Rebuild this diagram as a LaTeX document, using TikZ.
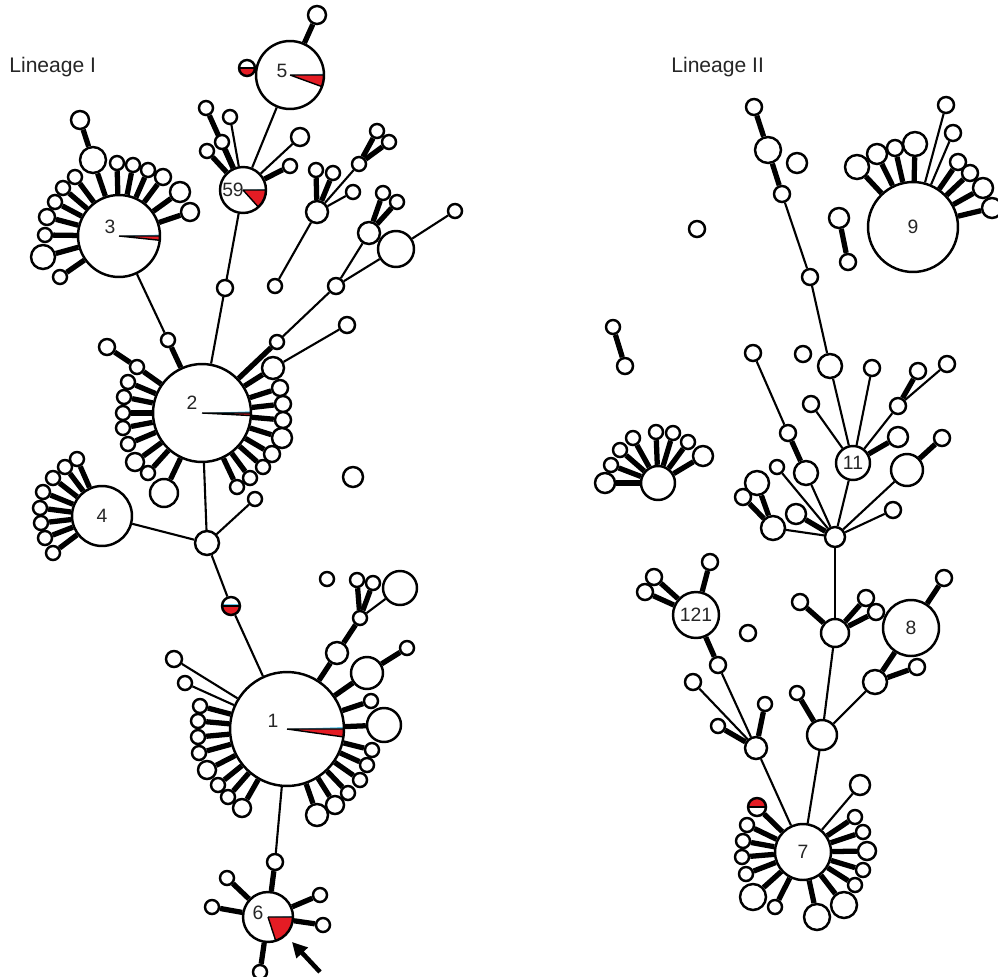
\documentclass[tikz,border=0pt]{standalone}
\usepackage{fontspec}
\setmainfont{Liberation Sans}
\usetikzlibrary{arrows.meta}
\definecolor{piered}{RGB}{228,28,36}
\definecolor{piecyan}{RGB}{100,200,235}

\begin{document}
\begin{tikzpicture}[x=0.02cm, y=-0.02cm,
    nd/.style={circle, draw, fill=white, line width=1.4pt, inner sep=0pt, minimum size=#1*0.04cm, font=\fontsize{11}{13}\selectfont, text=black!85},
    thn/.style={line width=1.2pt},
    thk/.style={line width=3pt},
    num/.style={font=\fontsize{11}{13}\selectfont, text=black!85, inner sep=0pt},
    title/.style={font=\fontsize{12}{14}\selectfont, text=black!85, anchor=base west, inner sep=0pt},
    pie/.style={path picture={
        \fill[piered] (path picture bounding box.center) -- +(0:3cm) -- +(#1:3cm) -- cycle;
        \fill[piecyan] (path picture bounding box.center) -- +(0:3cm) -- +(2:3cm) -- cycle;
        \draw[line width=.8pt] (path picture bounding box.center) -- +(0:3cm)
            (path picture bounding box.center) -- +(#1:3cm);}},
    halfdown/.style={path picture={
        \fill[piered] (path picture bounding box.west) rectangle (path picture bounding box.south east);
        \draw[line width=.8pt] (path picture bounding box.west) -- (path picture bounding box.east);}},
    halfcyan/.style={path picture={
        \fill[piered] (path picture bounding box.west) rectangle (path picture bounding box.south east);
        \fill[piecyan] (path picture bounding box.west) rectangle ++(1cm,0.05cm);
        \draw[line width=.8pt] (path picture bounding box.west) -- (path picture bounding box.east);}},
    halfup/.style={path picture={
        \fill[piered] (path picture bounding box.west) rectangle (path picture bounding box.north east);
        \draw[line width=.8pt] (path picture bounding box.west) -- (path picture bounding box.east);}}
]
\useasboundingbox (0,0) rectangle (998,977);

% ---------------- Lineage I ----------------
\node[title] (lin1) at (9,72) {Lineage I};

\node[nd=34, pie=-20] (n5) at (290,75) {};
\node[num] (l5) at (282,71) {5};
\node[nd=9] (n5a) at (317,15) {};
\draw[thk] (n5) -- (n5a);
\node[nd=8, halfdown] (hr1) at (247,68) {};

\node[nd=23, pie=-48] (n59) at (243,190) {};
\node[num] (l59) at (233,190) {59};
\draw[thn] (n59) -- (n5);
\foreach \x/\y/\r/\w [count=\i] in {206/108/7/3, 230/117/7/1.2, 222/142/7/3, 207/151/7/3, 300/137/9/1.2, 290/166/7/3}
  {\node[nd=\r] (g59-\i) at (\x,\y) {}; \draw[line width=\w pt] (n59) -- (g59-\i);}
\node[nd=8] (b1) at (225,288) {};
\draw[thn] (n59) -- (b1);

\node[nd=41, pie=-6] (n3) at (119,236) {};
\node[num] (l3) at (110,227) {3};
\node[nd=13] (n3a) at (93,160) {};
\node[nd=9] (n3b) at (80,120) {};
\draw[thk] (n3) -- (n3a) (n3a) -- (n3b);
\foreach \x/\y/\r [count=\i] in {117/163/7, 133/165/7, 148/170/7, 163/177/8, 180/192/10, 190/212/9, 75/177/7, 63/188/7, 55/202/7, 47/217/8, 45/235/7, 43/257/12, 60/277/7}
  {\node[nd=\r] (g3-\i) at (\x,\y) {}; \draw[thk] (n3) -- (g3-\i);}

% cluster right of 59
\node[nd=11] (c1) at (317,212) {};
\node[nd=7] (c1a) at (275,286) {};
\node[nd=7] (c1b) at (359,164) {};
\draw[thn] (c1) -- (c1a) (c1) -- (c1b);
\foreach \x/\y/\w [count=\i] in {316/170/3, 333/173/3, 353/192/1.2}
  {\node[nd=7] (gc1-\i) at (\x,\y) {}; \draw[line width=\w pt] (c1) -- (gc1-\i);}
\foreach \x/\y [count=\i] in {377/131, 389/142}
  {\node[nd=7] (gc2-\i) at (\x,\y) {}; \draw[thk] (c1b) -- (gc2-\i);}

% node 2
\node[nd=49, pie=-3] (n2) at (202,413) {};
\node[num] (l2) at (192,403) {2};
\draw[thn] (b1) -- (n2);
\node[nd=7] (n2a) at (168,340) {};
\draw[thk] (n2) -- (n2a);
\draw[thn] (n2a) -- (n3);
\node[nd=8] (n2b) at (347,325) {};
\node[nd=11] (n2c) at (273,368) {};
\draw[thn] (n2b) -- (n2c);
\draw[thk] (n2c) -- (n2);
\node[nd=8] (n2d) at (107,347) {};
\node[nd=7] (n2e) at (137,367) {};
\draw[thk] (n2d) -- (n2e) (n2e) -- (n2);
\foreach \x/\y/\r [count=\i] in {128/382/7, 124/397/7, 123/413/7, 123/428/7, 128/444/7, 135/462/9, 148/473/7, 164/493/14, 280/388/8, 283/404/8, 283/420/8, 282/438/10, 272/454/8, 263/467/7, 250/478/7, 237/487/7}
  {\node[nd=\r] (g2-\i) at (\x,\y) {}; \draw[thk] (n2) -- (g2-\i);}

% cluster feeding 2 from upper right
\node[nd=11] (d1) at (369,233) {};
\node[nd=18] (d2) at (396,249) {};
\node[nd=8] (d3) at (336,286) {};
\node[nd=7] (d4) at (455,211) {};
\node[nd=7] (d5) at (277,342) {};
\draw[thn] (d3) -- (d1) (d3) -- (d2) (d2) -- (d4) (d3) -- (d5);
\draw[thk] (d5) -- (n2);
\foreach \x/\y [count=\i] in {383/193, 397/202}
  {\node[nd=7] (gd-\i) at (\x,\y) {}; \draw[thk] (d1) -- (gd-\i);}

% junction below 2 and node 4
\node[nd=12] (e1) at (207,543) {};
\draw[thn] (n2) -- (e1);
\node[nd=30] (n4) at (102,516) {4};
\node[nd=7] (e2) at (255,499) {};
\node[nd=9, halfcyan] (hr2) at (231,606) {};
\draw[thn] (e1) -- (n4) (e1) -- (e2) (e1) -- (hr2);
\foreach \x/\y [count=\i] in {77/459, 65/467, 53/478, 43/492, 40/508, 41/523, 45/538, 53/553}
  {\node[nd=7] (g4-\i) at (\x,\y) {}; \draw[thk] (n4) -- (g4-\i);}
\node[nd=10] (i1) at (353,477) {};
\node[nd=7] (i2) at (327,579) {};

% node 1
\node[nd=57, pie=-8] (n1) at (287,729) {};
\node[num] (l1) at (273,721) {1};
\draw[thn] (hr2) -- (n1);
\node[nd=11] (f1) at (337,653) {};
\node[nd=7] (f2) at (360,618) {};
\draw[thk] (n1) -- (f1) (f1) -- (f2);
\foreach \x/\y/\r/\w [count=\i] in {357/580/7/3, 373/583/7/3, 400/588/17/1.2}
  {\node[nd=\r] (gf-\i) at (\x,\y) {}; \draw[line width=\w pt] (f2) -- (gf-\i);}
\node[nd=16] (f3) at (367,673) {};
\node[nd=7] (f4) at (407,648) {};
\draw[thk] (n1) -- (f3) (f3) -- (f4);
\node[nd=8] (f5) at (174,659) {};
\node[nd=7] (f6) at (185,683) {};
\draw[thn] (n1) -- (f5) (n1) -- (f6);
\foreach \x/\y/\r [count=\i] in {200/706/7, 198/721/7, 198/737/7, 199/753/7, 207/770/9, 218/785/7, 228/797/7, 242/808/9, 371/701/7, 384/725/17, 372/750/7, 367/765/7, 360/780/7, 348/793/7, 335/805/9, 317/815/11}
  {\node[nd=\r] (g1-\i) at (\x,\y) {}; \draw[thk] (n1) -- (g1-\i);}

% node 6
\node[nd=8] (f7) at (275,862) {};
\draw[thn] (n1) -- (f7);
\node[nd=25, pie=-72] (n6) at (268,917) {};
\node[num] (l6) at (258,913) {6};
\draw[thk] (f7) -- (n6);
\foreach \x/\y [count=\i] in {227/878, 212/907, 320/895, 323/925, 260/972}
  {\node[nd=7] (g6-\i) at (\x,\y) {}; \draw[thk] (n6) -- (g6-\i);}
\coordinate (arrtail) at (320,972);
\coordinate (arrtip) at (292,942);
\draw[line width=2.6pt, -{Triangle[length=0.3cm, width=0.3cm]}] (arrtail) -- (arrtip);

% ---------------- Lineage II ----------------
\node[title] (lin2) at (671,72) {Lineage II};

\node[nd=8] (m1) at (754,107) {};
\node[nd=13] (m2) at (768,150) {};
\node[nd=8] (m3) at (782,194) {};
\node[nd=8] (m4) at (810,277) {};
\node[nd=12] (m5) at (830,366) {};
\node[nd=17] (n11) at (853,463) {11};
\draw[thk] (m1) -- (m2) (m2) -- (m3);
\draw[thn] (m3) -- (m4) (m4) -- (m5) (m5) -- (n11);
\node[nd=10] (i4) at (797,163) {};
\node[nd=8] (i5) at (697,229) {};
\node[nd=8] (i6) at (803,354) {};
\node[nd=8] (i7) at (748,633) {};
\node[nd=10] (p1) at (839,218) {};
\node[nd=8] (p2) at (848,262) {};
\draw[thk] (p1) -- (p2);
\node[nd=7] (p3) at (613,327) {};
\node[nd=8] (p4) at (625,366) {};
\draw[thk] (p3) -- (p4);

% node 9
\node[nd=45] (n9) at (913,227) {9};
\foreach \x/\y/\r/\w [count=\i] in {857/167/12/3, 877/154/10/3, 895/148/8/3, 915/144/12/3, 946/105/8/1.2, 953/133/8/1.2, 958/162/8/3, 970/173/8/3, 983/188/10/3, 992/208/10/3}
  {\node[nd=\r] (g9-\i) at (\x,\y) {}; \draw[line width=\w pt] (n9) -- (g9-\i);}

% around 11 and the hub below it
\node[nd=10] (hub) at (835,537) {};
\node[nd=8] (k1) at (872,368) {};
\node[nd=8] (k2) at (811,404) {};
\node[nd=8] (k3) at (898,406) {};
\node[nd=8] (k4) at (918,371) {};
\node[nd=8] (k5) at (947,364) {};
\node[nd=10] (k6) at (898,437) {};
\draw[thn] (n11) -- (k1) (n11) -- (k2) (n11) -- (k3) (k3) -- (k5) (n11) -- (hub);
\draw[thk] (k3) -- (k4) (n11) -- (k6);
\node[nd=8] (h1) at (753,353) {};
\node[nd=8] (h2) at (788,433) {};
\node[nd=12] (h3) at (806,473) {};
\draw[thn] (h1) -- (h2) (h3) -- (hub);
\draw[thk] (h2) -- (h3);
\node[nd=7] (h4) at (777,467) {};
\node[nd=12] (h5) at (773,528) {};
\node[nd=12] (h6) at (757,483) {};
\node[nd=8] (h7) at (743,497) {};
\node[nd=10] (h8) at (796,514) {};
\node[nd=16] (h9) at (907,470) {};
\node[nd=8] (h10) at (942,438) {};
\node[nd=8] (h11) at (893,510) {};
\draw[thn] (hub) -- (h4) (hub) -- (h5) (hub) -- (h9) (hub) -- (h11);
\draw[thk] (h6) -- (h5) (h7) -- (h5) (hub) -- (h8) (h9) -- (h10);

% stem down to 7
\node[nd=14] (s1) at (835,633) {};
\draw[thn] (hub) -- (s1);
\node[nd=8] (s2) at (800,602) {};
\node[nd=8] (s3) at (866,598) {};
\node[nd=8] (s4) at (876,612) {};
\draw[thk] (s1) -- (s2) (s1) -- (s3) (s1) -- (s4);
\node[nd=15] (s5) at (822,735) {};
\draw[thn] (s1) -- (s5);
\node[nd=28] (n8) at (911,628) {8};
\node[nd=8] (s6) at (944,578) {};
\node[nd=12] (s7) at (875,682) {};
\node[nd=8] (s8) at (917,667) {};
\draw[thk] (n8) -- (s6) (n8) -- (s7) (s7) -- (s8);
\draw[thn] (s7) -- (s5);
\node[nd=7] (s9) at (797,693) {};
\draw[thk] (s5) -- (s9);

% node 121
\node[nd=23] (n121) at (696,615) {121};
\node[nd=8] (t1) at (710,562) {};
\node[nd=8] (t2) at (654,577) {};
\node[nd=8] (t3) at (645,592) {};
\node[nd=8] (t4) at (718,665) {};
\draw[thk] (n121) -- (t1) (n121) -- (t2) (n121) -- (t3) (n121) -- (t4);
\node[nd=8] (t5) at (693,682) {};
\node[nd=11] (t6) at (756,748) {};
\node[nd=7] (t7) at (765,704) {};
\node[nd=7] (t8) at (718,726) {};
\draw[thn] (t4) -- (t6) (t5) -- (t6);
\draw[thk] (t7) -- (t6) (t8) -- (t6);

% node 7
\node[nd=28] (n7) at (803,852) {7};
\draw[thn] (t6) -- (n7) (s5) -- (n7);
\node[nd=9, halfup] (hr3) at (757,807) {};
\draw[thk] (n7) -- (hr3);
\foreach \x/\y/\r [count=\i] in {747/825/7, 743/841/7, 742/857/7, 746/874/7, 753/897/13, 775/907/7, 817/917/13, 844/905/13, 855/885/7, 863/870/7, 867/851/9, 863/832/7, 855/817/7}
  {\node[nd=\r] (g7-\i) at (\x,\y) {}; \draw[thk] (n7) -- (g7-\i);}
\node[nd=10] (g7a) at (860,785) {};
\draw[thn] (n7) -- (g7a);

% separate fan on the left
\node[nd=17] (q0) at (658,483) {};
\foreach \x/\y/\r [count=\i] in {605/483/10, 611/465/7, 620/450/7, 633/438/7, 656/432/7, 673/433/7, 688/442/7, 703/456/10}
  {\node[nd=\r] (gq-\i) at (\x,\y) {}; \draw[thk] (q0) -- (gq-\i);}
\end{tikzpicture}
\end{document}
